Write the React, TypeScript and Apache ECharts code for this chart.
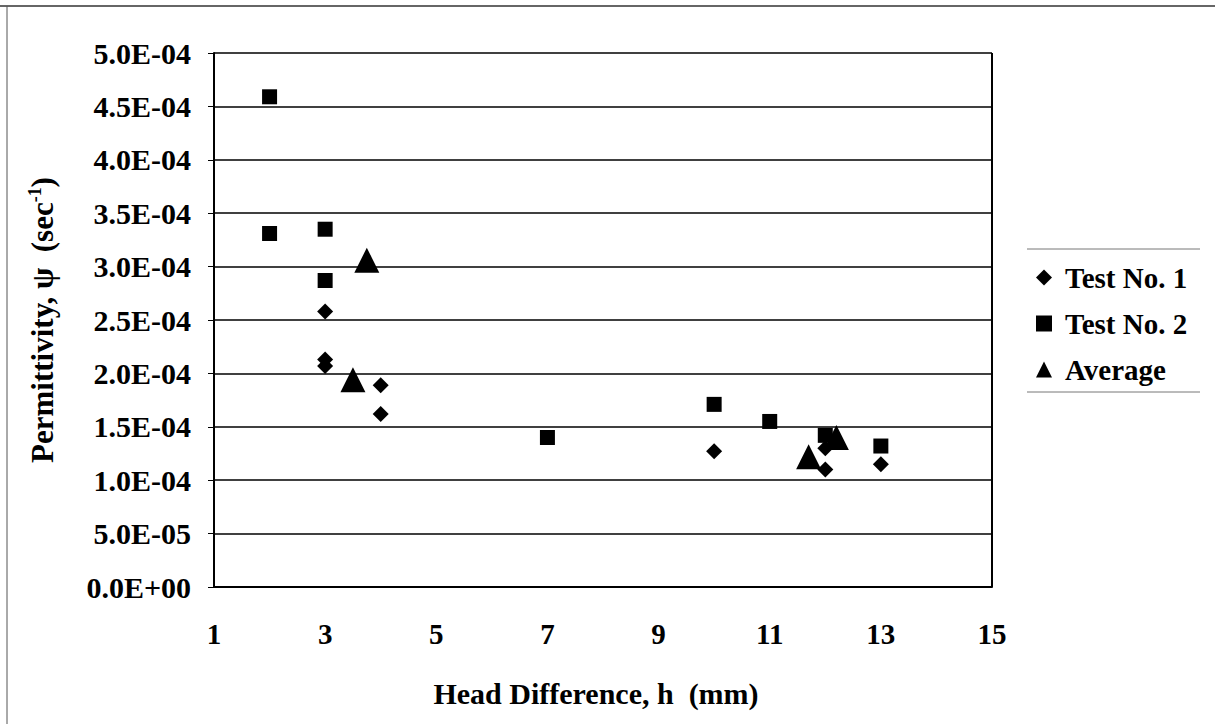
import React, { useEffect, useRef } from "react";
import * as echarts from "echarts";

const test1X = [3, 3, 3, 4, 4, 10, 12, 12, 13];
const test1Y = [2.58e-4, 2.13e-4, 2.07e-4, 1.89e-4, 1.62e-4, 1.27e-4, 1.3e-4, 1.1e-4, 1.15e-4];
const test2X = [2, 2, 3, 3, 7, 10, 11, 12, 13];
const test2Y = [4.59e-4, 3.31e-4, 3.35e-4, 2.87e-4, 1.4e-4, 1.71e-4, 1.55e-4, 1.42e-4, 1.32e-4];
const avgX = [3.75, 3.5, 11.7, 12.2];
const avgY = [3.06e-4, 1.94e-4, 1.22e-4, 1.4e-4];

const xTicks = [1, 3, 5, 7, 9, 11, 13, 15];
const yMax = 5e-4;
const yStep = 5e-5;

const FONT = "'Liberation Serif', 'Times New Roman', 'DejaVu Serif', serif";

function fmtExp(v: number): string {
  if (v === 0) return "0.0E+00";
  const s = v.toExponential(1);
  const [m, e] = s.split("e");
  const n = parseInt(e, 10);
  const sign = n < 0 ? "-" : "+";
  const abs = Math.abs(n);
  return `${m}E${sign}${abs < 10 ? "0" + abs : abs}`;
}

function pairs(xs: number[], ys: number[]) {
  return xs.map((x, i) => [x, ys[i]]);
}

export default function App() {
  const ref = useRef<HTMLDivElement>(null);
  useEffect(() => {
    if (!ref.current) return;
    const chart = echarts.init(ref.current, null, { renderer: "svg" });
    chart.setOption({
      animation: false,
      backgroundColor: "#fff",
      textStyle: { fontFamily: FONT },
      grid: { left: 214, top: 53, width: 778, height: 534, show: false },
      xAxis: {
        type: "value",
        min: 1,
        max: 15,
        interval: 2,
        axisLine: { show: true, onZero: false, lineStyle: { color: "#000", width: 2 } },
        axisTick: { show: false },
        splitLine: { show: false },
        axisLabel: {
          color: "#000",
          fontFamily: FONT,
          fontWeight: "bold",
          fontSize: 29,
          margin: 32,
          formatter: (v: number) => (xTicks.includes(v) ? String(v) : ""),
        },
        name: "Head Difference, h  (mm)",
        nameLocation: "middle",
        nameGap: 91,
        nameTextStyle: {
          color: "#000",
          fontFamily: FONT,
          fontWeight: "bold",
          fontSize: 30,
          padding: [0, 14, 0, 0],
        },
      },
      yAxis: {
        type: "value",
        min: 0,
        max: yMax,
        interval: yStep,
        axisLine: { show: true, lineStyle: { color: "#000", width: 2 } },
        axisTick: { show: true, inside: false, length: 6, lineStyle: { color: "#000" } },
        splitLine: { show: true, lineStyle: { color: "#000", width: 1.5 } },
        axisLabel: {
          color: "#000",
          fontFamily: FONT,
          fontWeight: "bold",
          fontSize: 30,
          margin: 23,
          formatter: (v: number) => fmtExp(v),
        },
        name: "Permittivity, ψ  (sec{sup|-1})",
        nameLocation: "middle",
        nameGap: 156,
        nameTextStyle: {
          color: "#000",
          fontFamily: FONT,
          fontWeight: "bold",
          fontSize: 31,
          rich: {
            sup: {
              fontSize: 18,
              fontWeight: "bold",
              fontFamily: FONT,
              color: "#000",
              verticalAlign: "top",
              padding: [0, 0, 14, 0],
            },
          },
        },
      },
      legend: {
        orient: "vertical",
        left: 1036,
        top: 263,
        padding: 0,
        itemGap: 17,
        itemWidth: 16,
        itemHeight: 16,
        textStyle: {
          color: "#000",
          fontFamily: FONT,
          fontWeight: "bold",
          fontSize: 29,
          padding: [0, 0, 0, 8],
        },
        data: [
          { name: "Test No. 1", icon: "diamond" },
          { name: "Test No. 2", icon: "rect" },
          { name: "Average", icon: "triangle" },
        ],
      },
      graphic: [
        { type: "line", shape: { x1: 0, y1: 6, x2: 1215, y2: 6 }, style: { stroke: "#333", lineWidth: 1.5 } },
        { type: "line", shape: { x1: 7, y1: 6, x2: 7, y2: 724 }, style: { stroke: "#555", lineWidth: 1 } },
        { type: "line", shape: { x1: 1027, y1: 249, x2: 1200, y2: 249 }, style: { stroke: "#777", lineWidth: 1 } },
        { type: "line", shape: { x1: 1027, y1: 392, x2: 1200, y2: 392 }, style: { stroke: "#777", lineWidth: 1 } },
        { type: "line", shape: { x1: 992, y1: 53, x2: 992, y2: 587 }, style: { stroke: "#000", lineWidth: 2 } },
      ],
      series: [
        {
          name: "Test No. 1",
          type: "scatter",
          symbol: "diamond",
          symbolSize: 16,
          itemStyle: { color: "#000", opacity: 1 },
          data: pairs(test1X, test1Y),
          z: 3,
        },
        {
          name: "Test No. 2",
          type: "scatter",
          symbol: "rect",
          symbolSize: 15,
          itemStyle: { color: "#000", opacity: 1 },
          data: pairs(test2X, test2Y),
          z: 4,
        },
        {
          name: "Average",
          type: "scatter",
          symbol: "triangle",
          symbolSize: 25,
          itemStyle: { color: "#000", opacity: 1 },
          data: pairs(avgX, avgY),
          z: 5,
        },
      ],
    });
    return () => chart.dispose();
  }, []);
  return (
    <div
      ref={ref}
      style={{ position: "absolute", left: 0, top: 0, width: 1215, height: 724, background: "#fff" }}
    />
  );
}
